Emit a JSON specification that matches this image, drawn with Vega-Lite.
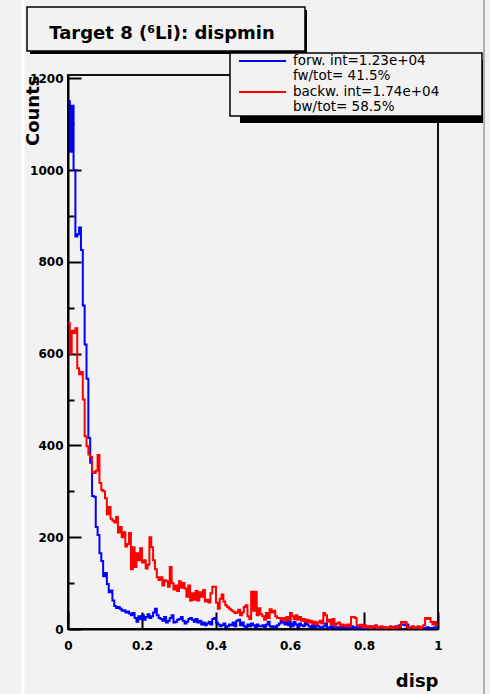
{
  "$schema": "https://vega.github.io/schema/vega-lite/v6.json",
  "width": 370,
  "height": 554,
  "autosize": {"type": "none"},
  "padding": {"left": 68, "top": 75, "right": 52, "bottom": 65},
  "background": "#f2f2f2",
  "config": {
    "view": {"stroke": "#111", "strokeWidth": 2},
    "font": "DejaVu Sans"
  },
  "datasets": {
    "hist": [
      {"x":0,"f":1150,"b":666},{"x":0.005,"f":1040,"b":600},{"x":0.01,"f":1140,"b":650},{"x":0.015,"f":1000,"b":645},{"x":0.02,"f":855,"b":655},
      {"x":0.025,"f":860,"b":568},{"x":0.03,"f":875,"b":555},{"x":0.035,"f":826,"b":560},{"x":0.04,"f":705,"b":500},{"x":0.045,"f":620,"b":420},
      {"x":0.05,"f":545,"b":398},{"x":0.055,"f":416,"b":380},{"x":0.06,"f":362,"b":375},{"x":0.065,"f":290,"b":342},{"x":0.07,"f":288,"b":340},
      {"x":0.075,"f":222,"b":345},{"x":0.08,"f":205,"b":379},{"x":0.085,"f":165,"b":318},{"x":0.09,"f":148,"b":303},{"x":0.095,"f":115,"b":300},
      {"x":0.1,"f":122,"b":285},{"x":0.105,"f":98,"b":250},{"x":0.11,"f":80,"b":266},{"x":0.115,"f":84,"b":240},{"x":0.12,"f":62,"b":236},
      {"x":0.125,"f":50,"b":232},{"x":0.13,"f":46,"b":244},{"x":0.135,"f":48,"b":210},{"x":0.14,"f":44,"b":222},{"x":0.145,"f":40,"b":200},
      {"x":0.15,"f":41,"b":211},{"x":0.155,"f":36,"b":180},{"x":0.16,"f":38,"b":185},{"x":0.165,"f":34,"b":209},{"x":0.17,"f":30,"b":130},
      {"x":0.175,"f":35,"b":178},{"x":0.18,"f":24,"b":135},{"x":0.185,"f":16,"b":165},{"x":0.19,"f":28,"b":150},{"x":0.195,"f":22,"b":176},
      {"x":0.2,"f":30,"b":145},{"x":0.205,"f":20,"b":150},{"x":0.21,"f":26,"b":132},{"x":0.215,"f":32,"b":140},{"x":0.22,"f":24,"b":200},
      {"x":0.225,"f":28,"b":178},{"x":0.23,"f":36,"b":150},{"x":0.235,"f":44,"b":130},{"x":0.24,"f":30,"b":113},{"x":0.245,"f":24,"b":107},
      {"x":0.25,"f":22,"b":113},{"x":0.255,"f":18,"b":95},{"x":0.26,"f":26,"b":106},{"x":0.265,"f":14,"b":104},{"x":0.27,"f":18,"b":92},
      {"x":0.275,"f":24,"b":135},{"x":0.28,"f":30,"b":100},{"x":0.285,"f":14,"b":86},{"x":0.29,"f":16,"b":95},{"x":0.295,"f":20,"b":83},
      {"x":0.3,"f":22,"b":104},{"x":0.305,"f":26,"b":90},{"x":0.31,"f":18,"b":100},{"x":0.315,"f":12,"b":88},{"x":0.32,"f":16,"b":70},
      {"x":0.325,"f":22,"b":95},{"x":0.33,"f":24,"b":62},{"x":0.335,"f":20,"b":78},{"x":0.34,"f":16,"b":64},{"x":0.345,"f":22,"b":83},
      {"x":0.35,"f":14,"b":62},{"x":0.355,"f":18,"b":80},{"x":0.36,"f":10,"b":70},{"x":0.365,"f":14,"b":85},{"x":0.37,"f":8,"b":60},
      {"x":0.375,"f":12,"b":64},{"x":0.38,"f":16,"b":58},{"x":0.385,"f":10,"b":78},{"x":0.39,"f":22,"b":92},{"x":0.395,"f":24,"b":92},
      {"x":0.4,"f":14,"b":58},{"x":0.405,"f":10,"b":44},{"x":0.41,"f":6,"b":66},{"x":0.415,"f":8,"b":75},{"x":0.42,"f":12,"b":60},
      {"x":0.425,"f":4,"b":52},{"x":0.43,"f":6,"b":48},{"x":0.435,"f":10,"b":44},{"x":0.44,"f":8,"b":41},{"x":0.445,"f":14,"b":38},
      {"x":0.45,"f":6,"b":35},{"x":0.455,"f":18,"b":36},{"x":0.46,"f":20,"b":42},{"x":0.465,"f":8,"b":30},{"x":0.47,"f":14,"b":36},
      {"x":0.475,"f":6,"b":48},{"x":0.48,"f":4,"b":52},{"x":0.485,"f":10,"b":28},{"x":0.49,"f":6,"b":22},{"x":0.495,"f":12,"b":81},
      {"x":0.5,"f":8,"b":40},{"x":0.505,"f":4,"b":81},{"x":0.51,"f":10,"b":30},{"x":0.515,"f":6,"b":45},{"x":0.52,"f":6,"b":32},
      {"x":0.525,"f":8,"b":28},{"x":0.53,"f":4,"b":20},{"x":0.535,"f":10,"b":35},{"x":0.54,"f":16,"b":24},{"x":0.545,"f":6,"b":43},
      {"x":0.55,"f":4,"b":36},{"x":0.555,"f":6,"b":40},{"x":0.56,"f":4,"b":28},{"x":0.565,"f":8,"b":24},{"x":0.57,"f":12,"b":24},
      {"x":0.575,"f":20,"b":20},{"x":0.58,"f":14,"b":24},{"x":0.585,"f":10,"b":18},{"x":0.59,"f":18,"b":26},{"x":0.595,"f":8,"b":20},
      {"x":0.6,"f":12,"b":35},{"x":0.605,"f":6,"b":28},{"x":0.61,"f":16,"b":22},{"x":0.615,"f":10,"b":30},{"x":0.62,"f":4,"b":20},
      {"x":0.625,"f":12,"b":26},{"x":0.63,"f":8,"b":18},{"x":0.635,"f":6,"b":22},{"x":0.64,"f":14,"b":16},{"x":0.645,"f":10,"b":20},
      {"x":0.65,"f":6,"b":14},{"x":0.655,"f":4,"b":18},{"x":0.66,"f":8,"b":12},{"x":0.665,"f":4,"b":16},{"x":0.67,"f":10,"b":10},
      {"x":0.675,"f":6,"b":14},{"x":0.68,"f":2,"b":18},{"x":0.685,"f":4,"b":12},{"x":0.69,"f":6,"b":35},{"x":0.695,"f":12,"b":30},
      {"x":0.7,"f":4,"b":16},{"x":0.705,"f":2,"b":20},{"x":0.71,"f":6,"b":10},{"x":0.715,"f":4,"b":22},{"x":0.72,"f":2,"b":8},
      {"x":0.725,"f":4,"b":12},{"x":0.73,"f":2,"b":14},{"x":0.735,"f":0,"b":6},{"x":0.74,"f":4,"b":10},{"x":0.745,"f":6,"b":8},
      {"x":0.75,"f":2,"b":6},{"x":0.755,"f":4,"b":10},{"x":0.76,"f":2,"b":6},{"x":0.765,"f":6,"b":26},{"x":0.77,"f":4,"b":26},
      {"x":0.775,"f":2,"b":24},{"x":0.78,"f":4,"b":8},{"x":0.785,"f":2,"b":6},{"x":0.79,"f":0,"b":9},{"x":0.795,"f":4,"b":4},
      {"x":0.8,"f":2,"b":8},{"x":0.805,"f":4,"b":4},{"x":0.81,"f":2,"b":6},{"x":0.815,"f":6,"b":2},{"x":0.82,"f":2,"b":6},
      {"x":0.825,"f":0,"b":4},{"x":0.83,"f":2,"b":8},{"x":0.835,"f":4,"b":2},{"x":0.84,"f":2,"b":4},{"x":0.845,"f":0,"b":6},
      {"x":0.85,"f":2,"b":2},{"x":0.855,"f":4,"b":4},{"x":0.86,"f":2,"b":2},{"x":0.865,"f":2,"b":4},{"x":0.87,"f":0,"b":6},
      {"x":0.875,"f":4,"b":2},{"x":0.88,"f":2,"b":4},{"x":0.885,"f":6,"b":2},{"x":0.89,"f":4,"b":6},{"x":0.895,"f":8,"b":4},
      {"x":0.9,"f":10,"b":15},{"x":0.905,"f":10,"b":14},{"x":0.91,"f":8,"b":15},{"x":0.915,"f":10,"b":4},{"x":0.92,"f":4,"b":2},
      {"x":0.925,"f":2,"b":4},{"x":0.93,"f":4,"b":6},{"x":0.935,"f":2,"b":2},{"x":0.94,"f":0,"b":4},{"x":0.945,"f":2,"b":6},
      {"x":0.95,"f":4,"b":2},{"x":0.955,"f":2,"b":4},{"x":0.96,"f":0,"b":8},{"x":0.965,"f":2,"b":24},{"x":0.97,"f":4,"b":22},
      {"x":0.975,"f":2,"b":24},{"x":0.98,"f":0,"b":15},{"x":0.985,"f":2,"b":10},{"x":0.99,"f":4,"b":15},{"x":0.995,"f":2,"b":8},
      {"x":1,"f":2,"b":8}
    ]
  },
  "layer": [
    {
      "data": {"name": "hist"},
      "transform": [{"fold": ["f"], "as": ["s", "y"]}],
      "mark": {"type": "line", "interpolate": "step-after", "color": "#0000ff", "strokeWidth": 2, "clip": true},
      "encoding": {
        "x": {
          "field": "x", "type": "quantitative",
          "scale": {"domain": [0, 1], "nice": false, "zero": false},
          "axis": {
            "title": "disp", "titleFont": "DejaVu Sans", "titleFontSize": 18, "titleFontWeight": "bold", "titleColor": "#000",
            "titleAnchor": "end", "titleAlign": "right", "titleBaseline": "alphabetic", "titleX": 370, "titleY": 57, "titleAngle": 0,
            "values": [0,0.05,0.1,0.15,0.2,0.25,0.3,0.35,0.4,0.45,0.5,0.55,0.6,0.65,0.7,0.75,0.8,0.85,0.9,0.95,1],
            "format": "~g",
            "labelExpr": "abs(datum.value*5 - round(datum.value*5)) < 0.001 ? datum.label : ''",
            "labelFont": "DejaVu Sans", "labelFontSize": 12, "labelFontWeight": "bold", "labelColor": "#000",
            "labelPadding": 28, "labelFlush": false, "labelOverlap": false,
            "domainColor": "#000", "domainWidth": 2, "tickColor": "#000", "tickWidth": 2,
            "tickSize": {"condition": {"test": "abs(datum.value*5 - round(datum.value*5)) < 0.001", "value": -17}, "value": -8},
            "grid": false
          }
        },
        "y": {
          "field": "y", "type": "quantitative",
          "scale": {"domain": [0, 1207], "nice": false},
          "axis": {
            "title": "Counts", "titleFont": "DejaVu Sans", "titleFontSize": 18, "titleFontWeight": "bold", "titleColor": "#000",
            "titleAngle": -90, "titleAlign": "right", "titleBaseline": "alphabetic", "titleX": -30, "titleY": 0, "titleAnchor": "end",
            "values": [0,50,100,150,200,250,300,350,400,450,500,550,600,650,700,750,800,850,900,950,1000,1050,1100,1150,1200],
            "format": "d",
            "labelExpr": "datum.value % 200 === 0 ? datum.label : ''",
            "labelFont": "DejaVu Sans", "labelFontSize": 12, "labelFontWeight": "bold", "labelColor": "#000",
            "labelPadding": 18, "labelFlush": false, "labelOverlap": false,
            "domainColor": "#000", "domainWidth": 2, "tickColor": "#000", "tickWidth": 2,
            "tickSize": {"condition": {"test": "datum.value % 200 === 0", "value": -13}, "value": -6},
            "grid": false
          }
        }
      }
    },
    {
      "data": {"name": "hist"},
      "transform": [{"fold": ["b"], "as": ["s", "y"]}],
      "mark": {"type": "line", "interpolate": "step-after", "color": "#ff0000", "strokeWidth": 2, "clip": true},
      "encoding": {
        "x": {"field": "x", "type": "quantitative"},
        "y": {"field": "y", "type": "quantitative"}
      }
    },
    {
      "data": {"values": [{}]},
      "mark": {"type": "rect", "fill": "#000"},
      "encoding": {"x": {"datum": -0.1027}, "x2": {"datum": 0.6459}, "y": {"datum": 1348.6}, "y2": {"datum": 1252.8}}
    },
    {
      "data": {"values": [{}]},
      "mark": {"type": "rect", "fill": "#f2f2f2", "stroke": "#000", "strokeWidth": 1.5},
      "encoding": {"x": {"datum": -0.1108}, "x2": {"datum": 0.6405}, "y": {"datum": 1355.2}, "y2": {"datum": 1259.3}}
    },
    {
      "data": {"values": [{}]},
      "mark": {"type": "text", "text": "Target 8 (⁶Li): dispmin", "font": "DejaVu Sans", "fontSize": 18, "fontWeight": "bold", "color": "#000", "align": "center", "baseline": "alphabetic"},
      "encoding": {"x": {"datum": 0.254}, "y": {"datum": 1286.5}}
    },
    {
      "data": {"values": [{}]},
      "mark": {"type": "rect", "fill": "#000"},
      "encoding": {"x": {"datum": 0.4649}, "x2": {"datum": 1.1216}, "y": {"datum": 1239.7}, "y2": {"datum": 1102.4}}
    },
    {
      "data": {"values": [{}]},
      "mark": {"type": "rect", "fill": "#f2f2f2", "stroke": "#000", "strokeWidth": 1.5},
      "encoding": {"x": {"datum": 0.4378}, "x2": {"datum": 1.1189}, "y": {"datum": 1255}, "y2": {"datum": 1117.7}}
    },
    {
      "data": {"values": [{}]},
      "mark": {"type": "rule", "color": "#0000ff", "strokeWidth": 2},
      "encoding": {"x": {"datum": 0.4622}, "x2": {"datum": 0.5892}, "y": {"datum": 1237.5}}
    },
    {
      "data": {"values": [{}]},
      "mark": {"type": "rule", "color": "#ff0000", "strokeWidth": 2},
      "encoding": {"x": {"datum": 0.4622}, "x2": {"datum": 0.5892}, "y": {"datum": 1170}}
    },
    {
      "data": {"values": [{}]},
      "mark": {"type": "text", "text": "forw. int=1.23e+04", "font": "DejaVu Sans", "fontSize": 13.5, "color": "#000", "align": "left", "baseline": "middle"},
      "encoding": {"x": {"datum": 0.6081}, "y": {"datum": 1237.5}}
    },
    {
      "data": {"values": [{}]},
      "mark": {"type": "text", "text": "fw/tot= 41.5%", "font": "DejaVu Sans", "fontSize": 13.5, "color": "#000", "align": "left", "baseline": "middle"},
      "encoding": {"x": {"datum": 0.6081}, "y": {"datum": 1204}}
    },
    {
      "data": {"values": [{}]},
      "mark": {"type": "text", "text": "backw. int=1.74e+04", "font": "DejaVu Sans", "fontSize": 13.5, "color": "#000", "align": "left", "baseline": "middle"},
      "encoding": {"x": {"datum": 0.6081}, "y": {"datum": 1170}}
    },
    {
      "data": {"values": [{}]},
      "mark": {"type": "text", "text": "bw/tot= 58.5%", "font": "DejaVu Sans", "fontSize": 13.5, "color": "#000", "align": "left", "baseline": "middle"},
      "encoding": {"x": {"datum": 0.6081}, "y": {"datum": 1136.5}}
    },
    {
      "data": {"values": [{}]},
      "mark": {"type": "rule", "color": "#b0b0b0", "strokeWidth": 2},
      "encoding": {"x": {"datum": 1.1243}, "y": {"datum": 1375}, "y2": {"datum": -160}}
    },
    {
      "data": {"values": [{}]},
      "mark": {"type": "rule", "color": "#ffffff", "strokeWidth": 3},
      "encoding": {"x": {"datum": -0.1216}, "y": {"datum": 1375}, "y2": {"datum": -160}}
    }
  ]
}
